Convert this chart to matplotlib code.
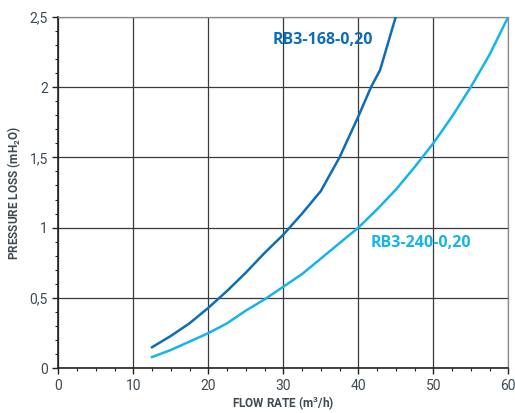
import matplotlib
matplotlib.use('Agg')
import matplotlib.pyplot as plt
from matplotlib.ticker import MultipleLocator, FuncFormatter

# flow rate (m3/h) and pressure loss (mH2O)
flow_168 = [12.5, 15, 17.5, 20, 22.5, 25, 27.5, 30, 32.5, 35, 37.5, 40, 41.7, 42.9, 45]
loss_168 = [0.15, 0.23, 0.32, 0.43, 0.55, 0.68, 0.82, 0.95, 1.10, 1.26, 1.50, 1.79, 2.0, 2.12, 2.5]

flow_240 = [12.5, 15, 17.5, 20, 22.5, 25, 27.5, 30, 32.5, 35, 37.5, 40,
            42.5, 45, 47.5, 50, 52.5, 55, 57.5, 60]
loss_240 = [0.08, 0.13, 0.19, 0.25, 0.32, 0.41, 0.49, 0.58, 0.67, 0.78, 0.89, 1.0,
            1.13, 1.27, 1.43, 1.60, 1.79, 2.0, 2.23, 2.5]

DARK = '#0d6db7'
LIGHT = '#17b3e9'
TXT = '#3f4a52'

plt.rcParams['font.family'] = ['Roboto', 'DejaVu Sans']
plt.rcParams['mathtext.default'] = 'regular'

fig = plt.figure(figsize=(5.15, 4.13), dpi=100)
ax = fig.add_axes([0.1132, 0.1082, 0.8738, 0.8514])

ax.plot(flow_168, loss_168, color=DARK, lw=1.8, zorder=3)
ax.plot(flow_240, loss_240, color=LIGHT, lw=1.8, zorder=3)

lbl_font = ['Open Sans', 'DejaVu Sans']
ax.text(28.6, 2.335, 'RB3-168-0,20', color=DARK, fontsize=11.5, fontweight='bold',
        family=lbl_font, va='center', ha='left', zorder=4)
ax.text(41.6, 0.893, 'RB3-240-0,20', color=LIGHT, fontsize=11.5, fontweight='bold',
        family=lbl_font, va='center', ha='left', zorder=4)

ax.set_xlim(0, 60)
ax.set_ylim(0, 2.5)
ax.xaxis.set_major_locator(MultipleLocator(10))
ax.xaxis.set_minor_locator(MultipleLocator(2.5))
ax.yaxis.set_major_locator(MultipleLocator(0.5))
ax.yaxis.set_minor_locator(MultipleLocator(0.1))
ax.yaxis.set_major_formatter(FuncFormatter(lambda v, p: ('%g' % v).replace('.', ',')))

ax.grid(True, which='major', color='#3a3a3a', lw=0.9)
ax.set_axisbelow(True)

for s in ['left', 'bottom']:
    ax.spines[s].set_color('#222222')
    ax.spines[s].set_linewidth(1.2)
for s in ['top', 'right']:
    ax.spines[s].set_color('#888888')
    ax.spines[s].set_linewidth(0.9)

ax.tick_params(which='major', direction='out', length=4, width=1, color='#222222',
               labelsize=10, labelcolor=TXT)
ax.tick_params(which='minor', direction='out', length=2.5, width=0.8, color='#222222')

ax.set_xlabel('FLOW RATE (m$^3$/h)', fontsize=8.5, fontweight='bold', color=TXT, labelpad=1)
ax.set_ylabel('PRESSURE LOSS (mH$_2$O)', fontsize=8.5, fontweight='bold', color=TXT, labelpad=5)

plt.savefig('out.png', dpi=100)
plt.close(fig)
